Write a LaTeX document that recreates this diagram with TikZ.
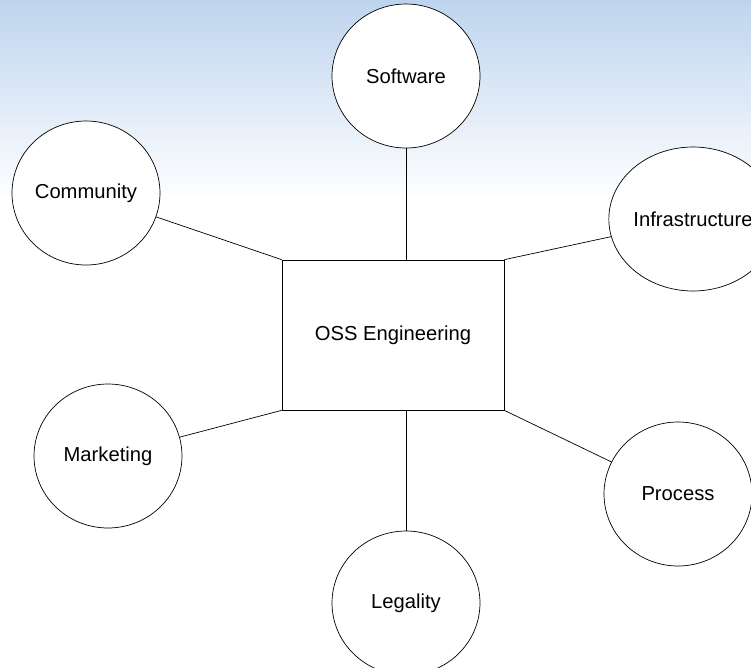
\documentclass[tikz,border=0pt]{standalone}
\usepackage{fontspec}
\setmainfont{Liberation Sans}
\usepackage{tikz}
\usetikzlibrary{shapes.geometric}
\definecolor{skyblue}{RGB}{190,212,238}

\begin{document}
\begin{tikzpicture}[x=0.02cm,y=-0.02cm,
every node/.style={draw,fill=white,font=\fontsize{11.5}{14}\selectfont},
bubble/.style={ellipse,minimum width=2.96cm,minimum height=2.88cm,inner sep=0pt}]

\useasboundingbox (0,0) rectangle (751,667);
\shade[top color=skyblue,bottom color=white] (0,0) rectangle (751,200);

\path (393,335) node[rectangle,minimum width=4.44cm,minimum height=3cm](e){OSS Engineering};
\path[bubble] (406,76) node[bubble](s){Software} (86,193) node[bubble](c){Community}
  (693,219) node[bubble](i){Infrastructure} (108,456) node[bubble](m){Marketing}
  (678,494) node[bubble](p){Process} (406,603) node[bubble](l){Legality};
\draw (s) -- (s |- e.north);
\draw (c) -- (e.north west);
\draw (i) -- (e.north east);
\draw (m) -- (e.south west);
\draw (p) -- (e.south east);
\draw (l) -- (l |- e.south);
\end{tikzpicture}
\end{document}
